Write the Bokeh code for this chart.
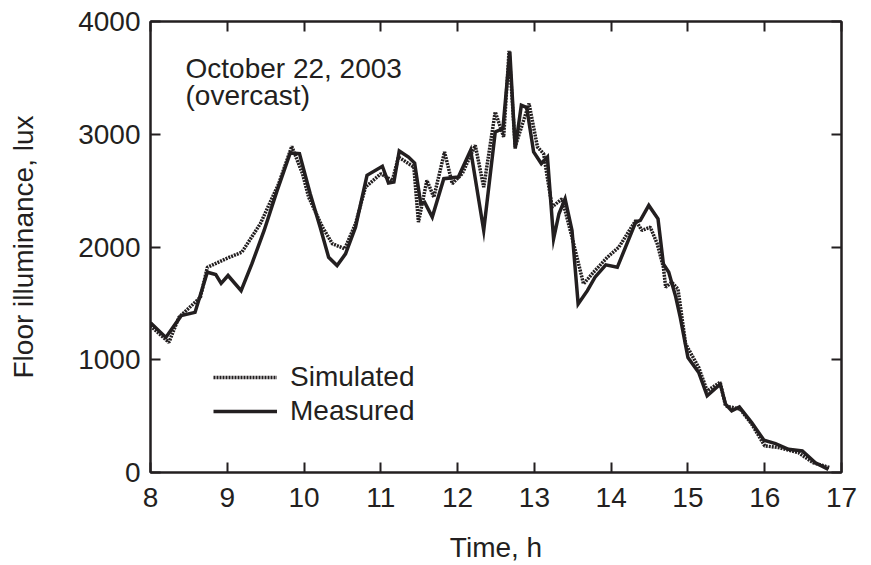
from bokeh.plotting import figure
from bokeh.models import Range1d, FixedTicker, LinearAxis, Legend, LegendItem, Label
from bokeh.embed import file_html
from bokeh.resources import INLINE

INK = "#231f20"
FONT = "Liberation Sans"

# ---- data ----
x_ticks = [8, 9, 10, 11, 12, 13, 14, 15, 16, 17]
y_ticks = [0, 1000, 2000, 3000, 4000]

t_meas = [8.00, 8.20, 8.40, 8.58, 8.74, 8.85, 8.92, 9.01, 9.18, 9.32, 9.48, 9.65, 9.82, 9.94,
          10.08, 10.21, 10.32, 10.43, 10.54, 10.67, 10.82, 11.02, 11.10, 11.17, 11.24, 11.36,
          11.44, 11.52, 11.57, 11.67, 11.82, 12.01, 12.17, 12.34, 12.49, 12.59, 12.68, 12.75,
          12.83, 12.90, 12.99, 13.09, 13.17, 13.25, 13.32, 13.40, 13.49, 13.57, 13.69, 13.79,
          13.93, 14.08, 14.32, 14.38, 14.49, 14.61, 14.68, 14.75, 14.84, 14.90, 15.00, 15.14,
          15.25, 15.42, 15.49, 15.57, 15.67, 15.83, 15.99, 16.14, 16.31, 16.49, 16.66, 16.83]
measured = [1327, 1198, 1391, 1420, 1776, 1755, 1678, 1747, 1613, 1850, 2147, 2502, 2834, 2828,
            2473, 2176, 1909, 1836, 1939, 2176, 2636, 2716, 2567, 2576, 2852, 2798,
            2745, 2384, 2398, 2265, 2606, 2620, 2858, 2147, 3020, 3050, 3732, 2873,
            3258, 3237, 2843, 2740, 2798, 2073, 2295, 2428, 2147, 1495, 1613, 1732,
            1842, 1820, 2220, 2236, 2369, 2250, 1850, 1776, 1560, 1376, 1020, 887,
            680, 784, 606, 547, 582, 443, 286, 256, 206, 191, 87, 28]

t_sim = [8.00, 8.24, 8.37, 8.65, 8.74, 8.98, 9.19, 9.43, 9.67, 9.84, 9.98, 10.06, 10.24, 10.37,
         10.53, 10.67, 10.80, 11.00, 11.15, 11.23, 11.43, 11.49, 11.60, 11.69, 11.83, 11.93,
         12.06, 12.23, 12.34, 12.49, 12.60, 12.67, 12.75, 12.93, 13.04, 13.12, 13.23, 13.36,
         13.49, 13.64, 13.77, 13.95, 14.10, 14.32, 14.40, 14.51, 14.60, 14.68, 14.71, 14.79,
         14.87, 14.97, 15.14, 15.25, 15.42, 15.49, 15.68, 15.83, 16.00, 16.18, 16.44, 16.63, 16.85]
simulated = [1300, 1154, 1376, 1554, 1820, 1895, 1954, 2206, 2562, 2893, 2650, 2442, 2176, 2028,
             1984, 2206, 2531, 2650, 2591, 2798, 2709, 2220, 2591, 2442, 2843, 2562,
             2650, 2902, 2531, 3198, 2976, 3740, 2890, 3273, 2887, 2828, 2354, 2428,
             2087, 1673, 1776, 1909, 1998, 2236, 2147, 2176, 2028, 1820, 1643, 1687,
             1628, 1140, 932, 724, 800, 590, 562, 430, 236, 221, 176, 87, 43]

p = figure(width=871, height=565, output_backend="svg", toolbar_location=None,
           x_range=Range1d(8, 17), y_range=Range1d(0, 4000),
           min_border_left=150, min_border_right=30, min_border_top=21, min_border_bottom=93)
p.grid.visible = False
p.outline_line_color = INK
p.outline_line_width = 2
p.background_fill_color = "white"
p.border_fill_color = "white"


def style_axis(ax, ticks, show_labels):
    ax.ticker = FixedTicker(ticks=ticks)
    ax.minor_tick_line_color = None
    ax.major_tick_in = 10
    ax.major_tick_out = 0
    ax.major_tick_line_color = INK
    ax.major_tick_line_width = 2
    ax.axis_line_color = INK
    ax.axis_line_width = 2
    ax.major_label_text_font = FONT
    if show_labels:
        ax.major_label_text_font_size = "28px"
        ax.major_label_text_color = INK
    else:
        ax.major_label_text_font_size = "1px"
        ax.major_label_text_color = None
        ax.major_label_standoff = 0


xa = p.xaxis[0]
ya = p.yaxis[0]
style_axis(xa, x_ticks, True)
style_axis(ya, y_ticks, True)
xa.major_label_standoff = 15
ya.major_label_standoff = 10
xa.axis_label = "Time, h"
ya.axis_label = "Floor illuminance, lux"
for ax in (xa, ya):
    ax.axis_label_text_font = FONT
    ax.axis_label_text_font_size = "28px"
    ax.axis_label_text_font_style = "normal"
    ax.axis_label_text_color = INK
xa.axis_label_standoff = 22
ya.axis_label_standoff = 36

top = LinearAxis()
right = LinearAxis()
style_axis(top, x_ticks, False)
style_axis(right, y_ticks, False)
p.add_layout(top, "above")
p.add_layout(right, "right")

r_meas = p.line(t_meas, measured, line_color=INK, line_width=3.5, line_join="miter")
r_sim = p.line(t_sim, simulated, line_color=INK, line_width=3.5, line_dash="2 1")

legend = Legend(items=[LegendItem(label="Simulated", renderers=[r_sim]),
                       LegendItem(label="Measured", renderers=[r_meas])],
                location=(63, 45), orientation="vertical",
                border_line_color=None, background_fill_alpha=0,
                padding=0, margin=0, spacing=2,
                glyph_width=64, glyph_height=32, label_height=32, label_standoff=13,
                label_text_font=FONT, label_text_font_size="28px", label_text_color=INK)
p.add_layout(legend, "center")

for txt, yy in (("October 22, 2003", 404), ("(overcast)", 377)):
    p.add_layout(Label(x=35, y=yy, x_units="screen", y_units="screen", text=txt,
                       text_font=FONT, text_font_size="28px", text_color=INK,
                       text_baseline="alphabetic", text_align="left"))

open("out.html", "w").write(file_html(p, INLINE))
